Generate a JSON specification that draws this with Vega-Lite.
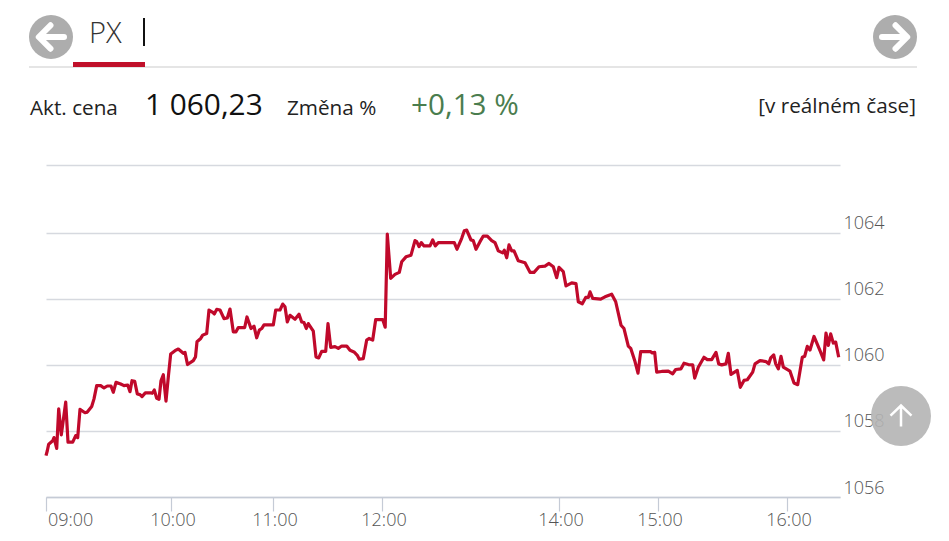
{
"$schema":"https://vega.github.io/schema/vega-lite/v6.json",
"width":794,"height":332,
"autosize":{"type":"none"},
"padding":{"left":46,"top":165,"right":109,"bottom":44},
"background":"white",
"config":{"view":{"stroke":null},"font":"Open Sans"},
"datasets":{
"px":[
{"n":0,"v":1057.25},{"n":1.3,"v":1057.4},{"n":2.7,"v":1057.6},{"n":6.7,"v":1057.7},{"n":8,"v":1057.8},{"n":10.7,"v":1057.47},{"n":12.7,"v":1058.67},{"n":15.3,"v":1057.88},{"n":19.7,"v":1058.87},{"n":22,"v":1057.66},{"n":26.7,"v":1057.66},{"n":29.7,"v":1057.86},{"n":31.7,"v":1057.8},{"n":34,"v":1058.65},{"n":39,"v":1058.55},{"n":41.3,"v":1058.57},{"n":45.7,"v":1058.74},{"n":48,"v":1058.97},{"n":50.7,"v":1059.37},{"n":54.7,"v":1059.37},{"n":58,"v":1059.3},{"n":61.3,"v":1059.36},{"n":65,"v":1059.36},{"n":67.3,"v":1059.17},{"n":70,"v":1059.47},{"n":74.7,"v":1059.42},{"n":78,"v":1059.37},{"n":81.7,"v":1059.39},{"n":84,"v":1059.19},{"n":86,"v":1059.52},{"n":88.7,"v":1059.5},{"n":91.3,"v":1059.12},{"n":94,"v":1059.1},{"n":96,"v":1059.04},{"n":99.3,"v":1059.15},{"n":104.7,"v":1059.15},{"n":106.3,"v":1059.14},{"n":108.3,"v":1059.24},{"n":110.7,"v":1058.99},{"n":113,"v":1058.96},{"n":115,"v":1059.52},{"n":117.3,"v":1059.7},{"n":120,"v":1058.9},{"n":122.3,"v":1059.63},{"n":124.7,"v":1060.33},{"n":129,"v":1060.43},{"n":132.3,"v":1060.48},{"n":137.3,"v":1060.35},{"n":139,"v":1060.38},{"n":141.5,"v":1060.01},{"n":147.3,"v":1060.13},{"n":149.5,"v":1060.24},{"n":151,"v":1060.7},{"n":154.7,"v":1060.8},{"n":156.7,"v":1060.9},{"n":160.7,"v":1060.95},{"n":163,"v":1061.66},{"n":166.3,"v":1061.6},{"n":168.3,"v":1061.54},{"n":170.7,"v":1061.68},{"n":174,"v":1061.66},{"n":178,"v":1061.4},{"n":181.3,"v":1061.42},{"n":184,"v":1061.69},{"n":187.3,"v":1061},{"n":190,"v":1061},{"n":192.3,"v":1061.13},{"n":198.7,"v":1061.13},{"n":201,"v":1061.45},{"n":205,"v":1061.1},{"n":208,"v":1061.17},{"n":210.7,"v":1060.82},{"n":213.3,"v":1061.05},{"n":215.7,"v":1061.1},{"n":218,"v":1061.21},{"n":227.3,"v":1061.21},{"n":229.7,"v":1061.66},{"n":234,"v":1061.66},{"n":236.7,"v":1061.84},{"n":239,"v":1061.76},{"n":241.3,"v":1061.3},{"n":244,"v":1061.5},{"n":249,"v":1061.38},{"n":253,"v":1061.53},{"n":255.7,"v":1061.3},{"n":258,"v":1061.28},{"n":260.3,"v":1061.1},{"n":262.3,"v":1061.25},{"n":267.3,"v":1061.02},{"n":270,"v":1060.24},{"n":272.7,"v":1060.21},{"n":275.7,"v":1060.41},{"n":279.7,"v":1060.41},{"n":282,"v":1061.25},{"n":284.7,"v":1060.53},{"n":289,"v":1060.55},{"n":292.3,"v":1060.5},{"n":295.7,"v":1060.57},{"n":300.7,"v":1060.57},{"n":304,"v":1060.44},{"n":308,"v":1060.39},{"n":311.3,"v":1060.29},{"n":313.3,"v":1060.17},{"n":317.3,"v":1060.19},{"n":320.7,"v":1060.75},{"n":323,"v":1060.8},{"n":326.7,"v":1060.75},{"n":329.7,"v":1061.37},{"n":336.7,"v":1061.37},{"n":339.2,"v":1061.14},{"n":341.3,"v":1063.96},{"n":344.7,"v":1062.62},{"n":349,"v":1062.74},{"n":353.3,"v":1062.8},{"n":355.7,"v":1063.12},{"n":360,"v":1063.27},{"n":365,"v":1063.32},{"n":369,"v":1063.76},{"n":370.7,"v":1063.73},{"n":373,"v":1063.58},{"n":375.3,"v":1063.7},{"n":378,"v":1063.6},{"n":384,"v":1063.6},{"n":386.7,"v":1063.78},{"n":389.3,"v":1063.6},{"n":392.3,"v":1063.7},{"n":408.3,"v":1063.7},{"n":411,"v":1063.5},{"n":415.7,"v":1063.83},{"n":418.3,"v":1064.06},{"n":420.7,"v":1064.08},{"n":425,"v":1063.78},{"n":427.3,"v":1063.76},{"n":430,"v":1063.5},{"n":434,"v":1063.73},{"n":437.3,"v":1063.9},{"n":441.3,"v":1063.9},{"n":445.7,"v":1063.76},{"n":449,"v":1063.7},{"n":452.3,"v":1063.45},{"n":456.7,"v":1063.39},{"n":458.3,"v":1063.47},{"n":460.7,"v":1063.24},{"n":463,"v":1063.63},{"n":465.7,"v":1063.45},{"n":468,"v":1063.45},{"n":472.3,"v":1063.15},{"n":479,"v":1063.09},{"n":484,"v":1062.8},{"n":488,"v":1062.8},{"n":493,"v":1062.97},{"n":499,"v":1062.99},{"n":503,"v":1063.07},{"n":507.3,"v":1062.97},{"n":510.7,"v":1062.64},{"n":513,"v":1062.95},{"n":517.3,"v":1062.82},{"n":520,"v":1062.39},{"n":525.7,"v":1062.48},{"n":530,"v":1062.46},{"n":532.3,"v":1061.91},{"n":536.3,"v":1061.85},{"n":539.7,"v":1062.04},{"n":542.3,"v":1062.04},{"n":544,"v":1062.21},{"n":546.7,"v":1062.01},{"n":554.7,"v":1061.99},{"n":559,"v":1062.06},{"n":565.7,"v":1062.14},{"n":569.7,"v":1061.91},{"n":575,"v":1061.2},{"n":578,"v":1061.1},{"n":582.3,"v":1060.57},{"n":584.7,"v":1060.5},{"n":589,"v":1060.1},{"n":592,"v":1059.75},{"n":594.7,"v":1060.4},{"n":604.7,"v":1060.4},{"n":606.3,"v":1060.36},{"n":608.7,"v":1060.38},{"n":610.7,"v":1059.78},{"n":615.7,"v":1059.8},{"n":622.3,"v":1059.81},{"n":626.7,"v":1059.73},{"n":629.7,"v":1059.86},{"n":635,"v":1059.88},{"n":638,"v":1060.05},{"n":642.3,"v":1060.01},{"n":646.7,"v":1060},{"n":648.7,"v":1059.6},{"n":652.3,"v":1059.93},{"n":658,"v":1060.23},{"n":661.3,"v":1060.16},{"n":665.7,"v":1060.16},{"n":670,"v":1060.38},{"n":672.7,"v":1060.03},{"n":675.7,"v":1060},{"n":680,"v":1060.03},{"n":682.3,"v":1060.35},{"n":685,"v":1059.71},{"n":691.3,"v":1059.83},{"n":694.3,"v":1059.32},{"n":698,"v":1059.53},{"n":701.3,"v":1059.55},{"n":706.7,"v":1059.78},{"n":709,"v":1060.03},{"n":714,"v":1060.13},{"n":720,"v":1060.1},{"n":722.7,"v":1060.03},{"n":724.7,"v":1060.21},{"n":727.7,"v":1060.3},{"n":729.7,"v":1060.03},{"n":732.3,"v":1059.88},{"n":735,"v":1060.26},{"n":737.3,"v":1059.93},{"n":744,"v":1059.81},{"n":748,"v":1059.45},{"n":751.7,"v":1059.4},{"n":756.3,"v":1060.23},{"n":758.7,"v":1060.26},{"n":761.3,"v":1060.56},{"n":764,"v":1060.45},{"n":768,"v":1060.86},{"n":774,"v":1060.43},{"n":777.7,"v":1060.15},{"n":780,"v":1060.96},{"n":782.3,"v":1060.59},{"n":784.7,"v":1060.94},{"n":787.3,"v":1060.66},{"n":789.7,"v":1060.69},{"n":792.7,"v":1060.23}
]},
"layer":[
{"data":{"name":"px"},
 "mark":{"type":"line","color":"#c0092b","strokeWidth":3.2,"strokeJoin":"round","interpolate":"linear"},
 "encoding":{
  "x":{"field":"n","type":"quantitative","scale":{"domain":[0,794],"nice":false,"zero":false},
   "axis":{"orient":"bottom","title":null,"values":[0,125,227,336,513,612,741],
    "labelExpr":"{'0':'09:00','125':'10:00','227':'11:00','336':'12:00','513':'14:00','612':'15:00','741':'16:00'}[''+datum.value]",
    "labelBaseline":"top","labelPadding":0,"labelOffset":1.5,"labelFontSize":18,"labelFontWeight":300,"labelColor":"#555","labelOverlap":false,"labelFont":"Open Sans","labelFlush":true,
    "tickSize":14,"tickColor":"#c5cbd6","domainColor":"#c5cbd6","domainWidth":1.5,"tickWidth":1.2,"grid":false}},
  "y":{"field":"v","type":"quantitative","scale":{"domain":[1056,1066.05],"nice":false,"zero":false},
   "axis":{"orient":"right","title":null,"values":[1056,1058,1060,1062,1064,1066.05],
    "labelExpr":"datum.value>1065?'':format(datum.value,'d')",
    "domain":false,"ticks":false,"grid":true,"gridColor":"#d6d9df","gridWidth":1.3,
    "labelPadding":3,"labelFontSize":18,"labelFontWeight":300,"labelColor":"#555","labelFont":"Open Sans","labelBaseline":"alphabetic","labelOffset":-4,"labelFlush":false,"labelOverlap":false}}
 }},
{"layer":[
 {"data":{"values":[{"x":29,"x2":917,"y":67}]},
  "mark":{"type":"rule","color":"#dcdcdc","strokeWidth":1.5},
  "encoding":{"x":{"field":"x","type":"quantitative","scale":{"domain":[0,949],"range":[-46,903],"nice":false,"zero":false},"axis":null},"x2":{"field":"x2"},"y":{"field":"y","type":"quantitative","scale":{"domain":[0,541],"range":[-165,376],"nice":false,"zero":false},"axis":null}}},
 {"data":{"values":[{"x":73,"x2":145,"y":64.5}]},
  "mark":{"type":"rule","color":"#c0102a","strokeWidth":5},
  "encoding":{"x":{"field":"x","type":"quantitative","axis":null},"x2":{"field":"x2"},"y":{"field":"y","type":"quantitative","axis":null}}},
 {"data":{"values":[{"x":144,"y":18,"y2":46}]},
  "mark":{"type":"rule","color":"#111","strokeWidth":2},
  "encoding":{"x":{"field":"x","type":"quantitative","axis":null},"y":{"field":"y","type":"quantitative","axis":null},"y2":{"field":"y2"}}},
 {"data":{"values":[{"x":51,"y":37},{"x":895,"y":37}]},
  "mark":{"type":"circle","color":"#adadad","opacity":1,"size":1936},
  "encoding":{"x":{"field":"x","type":"quantitative","axis":null},"y":{"field":"y","type":"quantitative","axis":null}}},
 {"data":{"values":[{"x":51,"y":37}]},
  "mark":{"type":"point","shape":"M0.5,0 L-0.45,0 M-0.02,-0.45 L-0.47,0 L-0.02,0.45","filled":false,"stroke":"white","strokeWidth":6,"strokeCap":"round","strokeJoin":"round","opacity":1,"size":2704},
  "encoding":{"x":{"field":"x","type":"quantitative","axis":null},"y":{"field":"y","type":"quantitative","axis":null}}},
 {"data":{"values":[{"x":895,"y":37}]},
  "mark":{"type":"point","shape":"M-0.5,0 L0.45,0 M0.02,-0.45 L0.47,0 L0.02,0.45","filled":false,"stroke":"white","strokeWidth":6,"strokeCap":"round","strokeJoin":"round","opacity":1,"size":2704},
  "encoding":{"x":{"field":"x","type":"quantitative","axis":null},"y":{"field":"y","type":"quantitative","axis":null}}},
 {"data":{"values":[{"x":901,"y":416}]},
  "mark":{"type":"circle","color":"#b4b4b4","opacity":0.9,"size":3600},
  "encoding":{"x":{"field":"x","type":"quantitative","axis":null},"y":{"field":"y","type":"quantitative","axis":null}}},
 {"data":{"values":[{"x":901,"y":416}]},
  "mark":{"type":"point","shape":"M0,0.5 L0,-0.5 M-0.5,-0.02 L0,-0.5 L0.5,-0.02","filled":false,"stroke":"white","strokeWidth":2.5,"opacity":1,"size":1764},
  "encoding":{"x":{"field":"x","type":"quantitative","axis":null},"y":{"field":"y","type":"quantitative","axis":null}}},
 {"data":{"values":[{"t":"PX","x":89,"y":43}]},
  "mark":{"type":"text","align":"left","baseline":"alphabetic","fontSize":29,"fontWeight":300,"font":"Open Sans","color":"#333"},
  "encoding":{"text":{"field":"t"},"x":{"field":"x","type":"quantitative","axis":null},"y":{"field":"y","type":"quantitative","axis":null}}},
 {"data":{"values":[{"t":"Akt. cena","x":30,"y":115},{"t":"Změna %","x":287,"y":115}]},
  "mark":{"type":"text","align":"left","baseline":"alphabetic","fontSize":20.7,"font":"Open Sans","color":"#222"},
  "encoding":{"text":{"field":"t"},"x":{"field":"x","type":"quantitative","axis":null},"y":{"field":"y","type":"quantitative","axis":null}}},
 {"data":{"values":[{"t":"[v reálném čase]","x":916,"y":113}]},
  "mark":{"type":"text","align":"right","baseline":"alphabetic","fontSize":20.7,"font":"Open Sans","color":"#222"},
  "encoding":{"text":{"field":"t"},"x":{"field":"x","type":"quantitative","axis":null},"y":{"field":"y","type":"quantitative","axis":null}}},
 {"data":{"values":[{"t":"1 060,23","x":145,"y":115}]},
  "mark":{"type":"text","align":"left","baseline":"alphabetic","fontSize":29.8,"font":"Open Sans","color":"#111"},
  "encoding":{"text":{"field":"t"},"x":{"field":"x","type":"quantitative","axis":null},"y":{"field":"y","type":"quantitative","axis":null}}},
 {"data":{"values":[{"t":"+0,13 %","x":411,"y":115}]},
  "mark":{"type":"text","align":"left","baseline":"alphabetic","fontSize":29.7,"font":"Open Sans","color":"#4a7d4e"},
  "encoding":{"text":{"field":"t"},"x":{"field":"x","type":"quantitative","axis":null},"y":{"field":"y","type":"quantitative","axis":null}}}
]}
],
"resolve":{"scale":{"x":"independent","y":"independent"},"axis":{"x":"independent","y":"independent"}}
}
